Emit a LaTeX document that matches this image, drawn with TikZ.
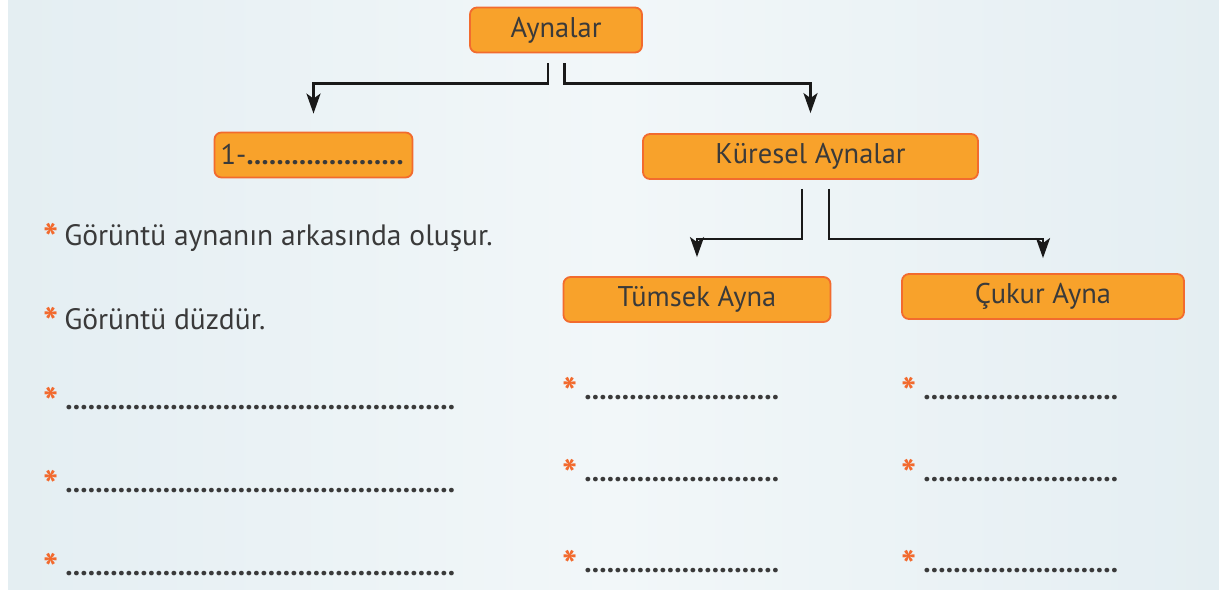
\documentclass[tikz,border=0pt]{standalone}
\usepackage{fontspec}
\setmainfont{PT Sans}
\usetikzlibrary{arrows.meta,positioning}
\definecolor{boxfill}{HTML}{F8A22B}
\definecolor{boxline}{HTML}{F26B2E}
\definecolor{ink}{HTML}{3A3A3A}
\definecolor{starc}{HTML}{F26A2E}
\definecolor{bgside}{HTML}{E4EEF2}
\definecolor{bgmid}{HTML}{F2F7F9}
\newcommand{\itemstar}{{\color{starc}\fontsize{40}{40}\selectfont\bfseries\raisebox{-7pt}{*}}}
\newcommand{\blankdots}[1]{\hbox to #1{\bfseries\leaders\hbox to 7.5pt{\hss.\hss}\hfill}}

\begin{document}
\begin{tikzpicture}[x=1pt,y=-1pt,>=Stealth,
  font=\fontsize{28.5}{32}\selectfont,
  box/.style={draw=boxline,line width=1.8pt,fill=boxfill,rounded corners=7pt,
    minimum height=45pt,inner sep=0pt,text=ink},
  arr/.style={->,draw=black!90,line width=2.6pt,
    arrows={-Stealth[length=20pt,width=14pt,inset=5pt]}},
  item/.style={anchor=base west,inner sep=0pt,text=ink,font=\fontsize{29.5}{32}\selectfont}]
\useasboundingbox (0,0) rectangle (1219,592);
\fill[left color=bgside,right color=bgside,middle color=bgmid] (8,0) rectangle (1219,589);
% boxes
\node[box,minimum width=172pt] (ayn) at (556,30) {Aynalar};
\node[box,minimum width=198pt] (bir) at (313.5,155) {1-\blankdots{160pt}};
\node[box,minimum width=335pt] (kur) at (810.5,156.5) {Küresel Aynalar};
\node[box,minimum width=267pt] (tum) at (697,299.5) {Tümsek Ayna};
\node[box,minimum width=282pt] (cuk) at (1043,296.5) {Çukur Ayna};
% connectors
\draw[arr,shorten >=18pt] ([xshift=-8pt]ayn.south) ++(0,10) -- ++(0,20) -| (bir.north);
\draw[arr,shorten >=20pt] ([xshift=8.5pt]ayn.south) ++(0,10) -- ++(0,20) -| (kur.north);
\draw[arr,shorten >=19pt] ([xshift=-8.5pt]kur.south) ++(0,9) -- ++(0,50) -| (tum.north);
\draw[arr,shorten >=15pt] ([xshift=18.5pt]kur.south) ++(0,9) -- ++(0,50) -| (cuk.north);
% left column
\node[item] (p1) at (43,245) {\itemstar\hspace{6pt}Görüntü aynanın arkasında oluşur.};
\node[item] (p2) at (43,329) {\itemstar\hspace{6pt}Görüntü düzdür.};
\foreach \n/\y in {3/409,4/492,5/575}
  \node[item] (p\n) at (43,\y) {\itemstar\hspace{7pt}\blankdots{390pt}};
% right columns
\foreach \n/\y in {1/399,2/481,3/572} {
  \node[item] (t\n) at (562,\y) {\itemstar\hspace{7pt}\blankdots{198pt}};
  \node[item] (c\n) at (901,\y) {\itemstar\hspace{7pt}\blankdots{198pt}};
}
\end{tikzpicture}
\end{document}
